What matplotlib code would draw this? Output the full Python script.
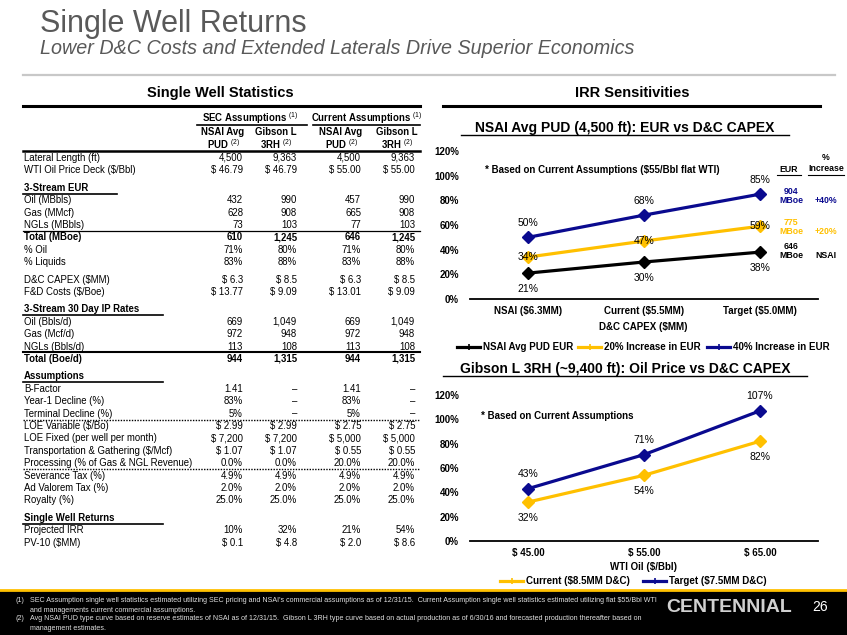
import matplotlib
matplotlib.use("Agg")
import matplotlib.pyplot as plt
from matplotlib.lines import Line2D

plt.rcParams['font.family'] = ['Liberation Sans', 'DejaVu Sans']
plt.rcParams['mathtext.fontset'] = 'custom'
plt.rcParams['mathtext.rm'] = 'Liberation Sans'
plt.rcParams['mathtext.it'] = 'Liberation Sans:italic'
plt.rcParams['mathtext.bf'] = 'Liberation Sans:bold'

W, H = 847, 635

# ---------------- DATA ----------------
title = "Single Well Returns"
subtitle = "Lower D&C Costs and Extended Laterals Drive Superior Economics"

group_headers = ["SEC Assumptions", "Current Assumptions"]
col_headers_1 = ["NSAI Avg", "Gibson L", "NSAI Avg", "Gibson L"]
col_headers_2 = ["PUD", "3RH", "PUD", "3RH"]

lateral_length = ["4,500", "9,363", "4,500", "9,363"]
wti_deck = ["$ 46.79", "$ 46.79", "$ 55.00", "$ 55.00"]
eur_oil = ["432", "990", "457", "990"]
eur_gas = ["628", "908", "665", "908"]
eur_ngl = ["73", "103", "77", "103"]
eur_total = ["610", "1,245", "646", "1,245"]
pct_oil = ["71%", "80%", "71%", "80%"]
pct_liquids = ["83%", "88%", "83%", "88%"]
dc_capex = ["$ 6.3", "$ 8.5", "$ 6.3", "$ 8.5"]
fd_costs = ["$ 13.77", "$ 9.09", "$ 13.01", "$ 9.09"]
ip_oil = ["669", "1,049", "669", "1,049"]
ip_gas = ["972", "948", "972", "948"]
ip_ngl = ["113", "108", "113", "108"]
ip_total = ["944", "1,315", "944", "1,315"]
b_factor = ["1.41", "–", "1.41", "–"]
year1_decline = ["83%", "–", "83%", "–"]
terminal_decline = ["5%", "–", "5%", "–"]
loe_variable = ["$ 2.99", "$ 2.99", "$ 2.75", "$ 2.75"]
loe_fixed = ["$ 7,200", "$ 7,200", "$ 5,000", "$ 5,000"]
transport = ["$ 1.07", "$ 1.07", "$ 0.55", "$ 0.55"]
processing = ["0.0%", "0.0%", "20.0%", "20.0%"]
severance = ["4.9%", "4.9%", "4.9%", "4.9%"]
ad_valorem = ["2.0%", "2.0%", "2.0%", "2.0%"]
royalty = ["25.0%", "25.0%", "25.0%", "25.0%"]
proj_irr = ["10%", "32%", "21%", "54%"]
pv10 = ["$ 0.1", "$ 4.8", "$ 2.0", "$ 8.6"]

# chart 1
c1_categories = ["NSAI ($6.3MM)", "Current ($5.5MM)", "Target ($5.0MM)"]
c1_nsai = [21, 30, 38]
c1_plus20 = [34, 47, 59]
c1_plus40 = [50, 68, 85]
c1_series_names = ["NSAI Avg PUD EUR", "20% Increase in EUR", "40% Increase in EUR"]
c1_eur = ["646\nMBoe", "775\nMBoe", "904\nMBoe"]
c1_incr = ["NSAI", "+20%", "+40%"]

# chart 2
c2_categories = ["$ 45.00", "$ 55.00", "$ 65.00"]
c2_current = [32, 54, 82]
c2_target = [43, 71, 107]
c2_series_names = ["Current ($8.5MM D&C)", "Target ($7.5MM D&C)"]

footnote1 = ("SEC Assumption single well statistics estimated utilizing SEC pricing and NSAI's commercial assumptions as of 12/31/15.  "
             "Current Assumption single well statistics estimated utilizing flat $55/Bbl WTI")
footnote1b = "and managements current commercial assumptions."
footnote2 = ("Avg NSAI PUD type curve based on reserve estimates of NSAI as of 12/31/15.  Gibson L 3RH type curve based on actual "
             "production as of 6/30/16 and forecasted production thereafter based on")
footnote2b = "management estimates."

BLUE = "#0A0A8F"
GOLD = "#FFC000"
GRAY_T = "#595959"

fig = plt.figure(figsize=(W / 100, H / 100), dpi=100)


def P(x, y):
    return x / W, 1 - y / H


def T(x, y, s, **kw):
    fx, fy = P(x, y)
    kw.setdefault('va', 'center')
    return fig.text(fx, fy, s, **kw)


def L(x0, x1, y, **kw):
    (a, b), (c, d) = P(x0, y), P(x1, y)
    fig.add_artist(Line2D([a, c], [b, d], transform=fig.transFigure, **kw))


# ---------------- HEADER ----------------
T(40, 24, title, fontsize=22, color=GRAY_T)
T(40, 48, subtitle, fontsize=14.2, color=GRAY_T, style='italic')
L(23, 835, 75, color='#C8C8C8', lw=1.6)
T(220, 93, "Single Well Statistics", fontsize=10.5, fontweight='bold', ha='center')
T(632, 93, "IRR Sensitivities", fontsize=10.5, fontweight='bold', ha='center')
L(23, 420, 106, color='black', lw=2.2)
L(443, 820, 106, color='black', lw=2.2)

# ---------------- TABLE ----------------
FS = 6.9
col_x = [243, 297, 361, 415]
col_cx = [223, 276, 341, 397]
label_x = 24

T(250, 118, group_headers[0] + r" $^{(1)}$", fontsize=FS, fontweight='bold', ha='center')
T(367, 118, group_headers[1] + r" $^{(1)}$", fontsize=FS, fontweight='bold', ha='center')
L(197, 307, 124.5, color='black', lw=1.2)
L(313, 420, 124.5, color='black', lw=1.2)
for i in range(4):
    T(col_cx[i], 132, col_headers_1[i], fontsize=FS, fontweight='bold', ha='center')
    T(col_cx[i], 144, col_headers_2[i] + r" $^{(2)}$", fontsize=FS, fontweight='bold', ha='center')
L(23, 420, 151, color='black', lw=1.8)

rows = [
    ("Lateral Length (ft)", lateral_length, 'row'),
    ("WTI Oil Price Deck ($/Bbl)", wti_deck, 'row'),
    None,
    ("3-Stream EUR", None, 'head'),
    ("Oil (MBbls)", eur_oil, 'row'),
    ("Gas (MMcf)", eur_gas, 'row'),
    ("NGLs (MBbls)", eur_ngl, 'row'),
    ("Total (MBoe)", eur_total, 'total'),
    ("% Oil", pct_oil, 'row'),
    ("% Liquids", pct_liquids, 'row'),
    None,
    ("D&C CAPEX ($MM)", dc_capex, 'row'),
    ("F&D Costs ($/Boe)", fd_costs, 'row'),
    None,
    ("3-Stream 30 Day IP Rates", None, 'head'),
    ("Oil (Bbls/d)", ip_oil, 'row'),
    ("Gas (Mcf/d)", ip_gas, 'row'),
    ("NGLs (Bbls/d)", ip_ngl, 'row'),
    ("Total (Boe/d)", ip_total, 'total2'),
    None,
    ("Assumptions", None, 'head'),
    ("B-Factor", b_factor, 'row'),
    ("Year-1 Decline (%)", year1_decline, 'row'),
    ("Terminal Decline (%)", terminal_decline, 'dotafter'),
    ("LOE Variable ($/Bo)", loe_variable, 'row'),
    ("LOE Fixed (per well per month)", loe_fixed, 'row'),
    ("Transportation & Gathering ($/Mcf)", transport, 'row'),
    ("Processing (% of Gas & NGL Revenue)", processing, 'dotafter'),
    ("Severance Tax (%)", severance, 'row'),
    ("Ad Valorem Tax (%)", ad_valorem, 'row'),
    ("Royalty (%)", royalty, 'row'),
    None,
    ("Single Well Returns", None, 'head'),
    ("Projected IRR", proj_irr, 'row'),
    ("PV-10 ($MM)", pv10, 'row'),
]

y = 158 - 12.4
for r in rows:
    if r is None:
        y += 5
        continue
    y += 12.4
    label, vals, kind = r
    bold = kind in ('head', 'total', 'total2')
    T(label_x, y, label, fontsize=FS, fontweight='bold' if bold else 'normal')
    if kind == 'head':
        L(23, 117 if label == "3-Stream EUR" else 163, y + 6, color='black', lw=1.2)
    if vals is not None:
        for i, v in enumerate(vals):
            T(col_x[i], y, v, fontsize=FS, ha='right', fontweight='bold' if bold else 'normal')
    if kind == 'total':
        L(23, 420, y - 6.5, color='black', lw=0.9)
    if kind == 'total2':
        L(23, 420, y - 6.5, color='black', lw=1.5)
    if kind == 'dotafter':
        L(23, 420, y + 6.3, color='black', lw=1.0, ls=(0, (1, 1)))

# ---------------- CHARTS ----------------
XL, XR = 470, 818


def make_axes(y0, y120):
    fx0, fy0 = P(XL, y0)
    ax = fig.add_axes([fx0, fy0, (XR - XL) / W, (y0 - y120) / H])
    ax.set_xlim(-0.5, 2.5)
    ax.set_ylim(0, 120)
    for s in ('top', 'right', 'left'):
        ax.spines[s].set_visible(False)
    ax.spines['bottom'].set_linewidth(1.3)
    ax.set_yticks(range(0, 121, 20))
    ax.set_yticklabels([f"{v}%" for v in range(0, 121, 20)], fontsize=7, fontweight='bold')
    ax.tick_params(axis='y', length=0, pad=8)
    ax.tick_params(axis='x', length=0, pad=5)
    ax.patch.set_alpha(0)
    return ax


def series(ax, vals, color, dy, fs=7.5):
    xs = list(range(len(vals)))
    ax.plot(xs, vals, color=color, lw=2.3, marker='D', ms=6, zorder=3, clip_on=False)
    for x, v in zip(xs, vals):
        ax.annotate(f"{v}%", (x, v), xytext=(0, dy), textcoords='offset pixels',
                    ha='center', va='center', fontsize=fs, zorder=4)


def legend_item(x0, y, color, label):
    L(x0, x0 + 23, y, color=color, lw=2.3)
    fx, fy = P(x0 + 12, y)
    fig.add_artist(Line2D([fx], [fy], transform=fig.transFigure, marker='+', color=color, ms=4, mew=1.2))
    T(x0 + 26, y, label, fontsize=7, fontweight='bold')


# chart 1
T(625, 128, "NSAI Avg PUD (4,500 ft): EUR vs D&C CAPEX", fontsize=10, fontweight='bold', ha='center')
L(461, 789, 135, color='black', lw=1.0)
ax1 = make_axes(299, 151)
ax1.set_xticks(range(3))
ax1.set_xticklabels(c1_categories, fontsize=7, fontweight='bold')
series(ax1, c1_nsai, 'black', -16)
series(ax1, c1_plus20, GOLD, 0)
series(ax1, c1_plus40, BLUE, 14)
T(485, 170, "* Based on Current Assumptions ($55/Bbl flat WTI)", fontsize=7, fontweight='bold')
T(643, 327, "D&C CAPEX ($MM)", fontsize=7, fontweight='bold', ha='center')
T(789, 170, "EUR", fontsize=6.3, fontweight='bold', ha='center')
L(777, 801, 175, color='black', lw=0.8)
T(826, 158, "%", fontsize=6.3, fontweight='bold', ha='center')
T(826, 169, "Increase", fontsize=6.3, fontweight='bold', ha='center')
L(808, 844, 175, color='black', lw=0.8)
eur_y = [251, 227, 196]
eur_col = ['black', GOLD, BLUE]
for i in range(3):
    T(791, eur_y[i], c1_eur[i], fontsize=6.3, fontweight='bold', ha='center', color=eur_col[i], linespacing=1.1)
    T(826, eur_y[i] + 5, c1_incr[i], fontsize=6.3, fontweight='bold', ha='center', color=eur_col[i])
legend_item(457, 347, 'black', c1_series_names[0])
legend_item(578, 347, GOLD, c1_series_names[1])
legend_item(707, 347, BLUE, c1_series_names[2])

# chart 2
T(625, 369, "Gibson L 3RH (~9,400 ft): Oil Price vs D&C CAPEX", fontsize=10, fontweight='bold', ha='center')
L(443, 807, 376, color='black', lw=1.0)
ax2 = make_axes(541, 395)
ax2.set_xticks(range(3))
ax2.set_xticklabels(c2_categories, fontsize=7, fontweight='bold')
series(ax2, c2_current, GOLD, -16)
series(ax2, c2_target, BLUE, 15)
T(481, 416, "* Based on Current Assumptions", fontsize=7, fontweight='bold')
T(643, 567, "WTI Oil ($/Bbl)", fontsize=7, fontweight='bold', ha='center')
legend_item(500, 581, GOLD, c2_series_names[0])
legend_item(643, 581, BLUE, c2_series_names[1])

# ---------------- FOOTER ----------------
fig.add_artist(plt.Rectangle((0, 0), 1, 1 - 591 / H, transform=fig.transFigure, color='black', zorder=0))
L(0, W, 590, color=GOLD, lw=2.0)
FN = 5.1
FC = '#E0E0E0'
T(16, 601, "(1)", fontsize=FN, color=FC)
T(30, 601, footnote1, fontsize=FN, color=FC)
T(30, 610, footnote1b, fontsize=FN, color=FC)
T(16, 619, "(2)", fontsize=FN, color=FC)
T(30, 619, footnote2, fontsize=FN, color=FC)
T(30, 628, footnote2b, fontsize=FN, color=FC)
T(729, 607, "CENTENNIAL", fontsize=14, fontweight='bold', color='#D0D0D0', ha='center')
T(820, 607, "26", fontsize=10, color='white', ha='center')

fig.savefig("out.png", dpi=100)
